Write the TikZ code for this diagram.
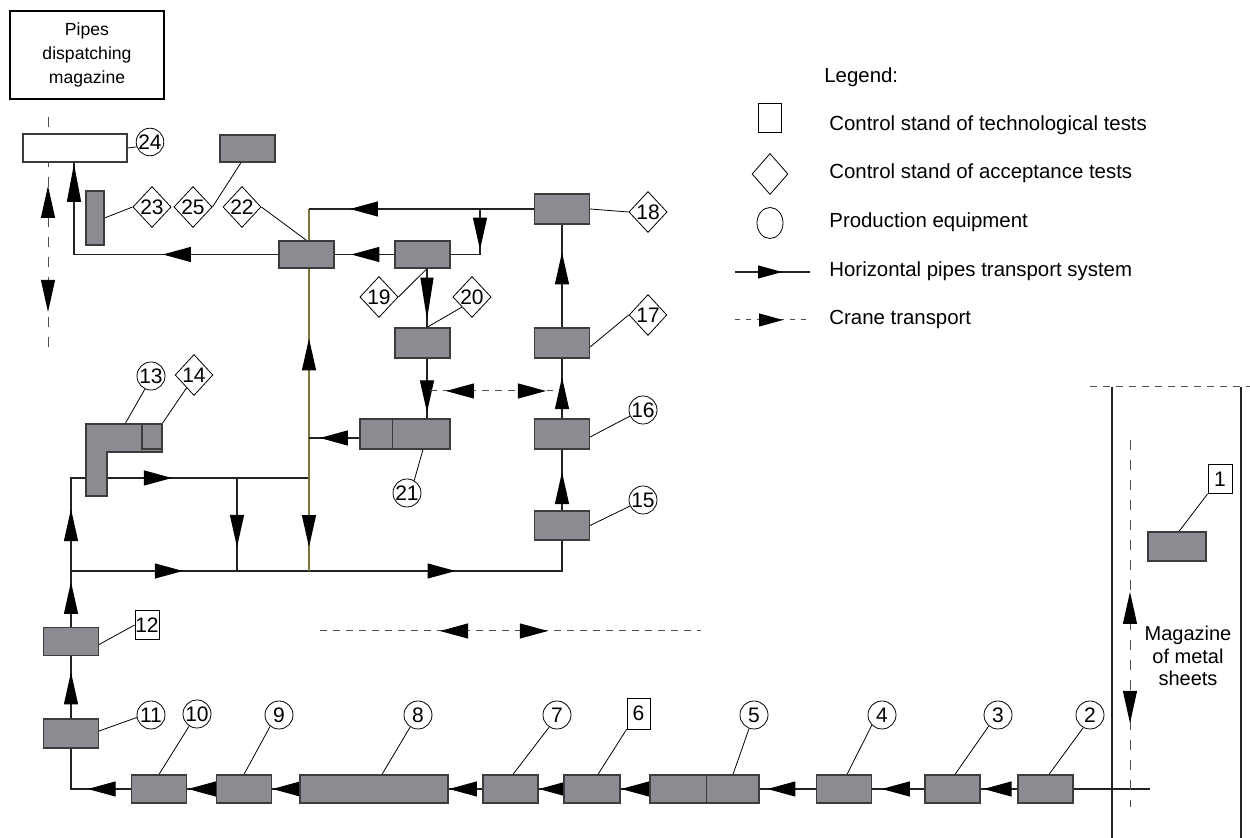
\documentclass[tikz,border=0pt]{standalone}
\usepackage{fontspec}
\setmainfont{Liberation Sans}
\usetikzlibrary{arrows.meta,decorations.markings,shapes.geometric,calc}
\pgfdeclarelayer{bg}
\pgfsetlayers{bg,main}
\definecolor{boxfill}{RGB}{139,140,145}
\definecolor{boxline}{RGB}{60,60,60}
\definecolor{olive2}{RGB}{125,118,55}
\definecolor{ln}{RGB}{35,35,35}
\tikzset{
  HTip/.tip={Triangle[length=14pt,width=7.5pt,color=black]},
  VTip/.tip={Triangle[length=16pt,width=7pt,color=black]},
  LTip/.tip={Triangle[length=19pt,width=7pt,color=black]},
  XTip/.tip={Triangle[length=21pt,width=6.5pt,color=black]},
  GTip/.tip={Triangle[length=12pt,width=6.5pt,color=black]},
  fw/.style 2 args={postaction={decorate,decoration={markings,mark=at position #1 with {\arrow{#2}}}}},
  bw/.style 2 args={postaction={decorate,decoration={markings,mark=at position #1 with {\arrowreversed{#2}}}}},
  fl/.style={draw=ln, line width=0.55pt},
  ol/.style={draw=olive2, line width=0.6pt},
  ld/.style={draw=black, line width=0.4pt},
  cr/.style={draw=ln!80, line width=0.5pt, dash pattern=on 3.5pt off 3pt},
  gb/.style={draw=boxline, fill=boxfill, line width=0.6pt, inner sep=0pt, minimum width=27.5pt, minimum height=14.5pt},
  sq/.style={rectangle, draw, fill=white, line width=0.4pt, inner sep=0pt, minimum width=12pt, minimum height=14.5pt},
  cn/.style={circle, draw, fill=white, line width=0.4pt, inner sep=0pt, minimum size=14pt},
  dm/.style={diamond, draw, fill=white, line width=0.4pt, inner sep=0pt, minimum width=18.5pt, minimum height=20.5pt},
  tbox/.style={draw=black, line width=0.9pt, minimum width=77pt, minimum height=44pt, align=center, inner sep=0pt, font=\fontsize{8.8}{12}\selectfont},
  lgt/.style={anchor=west, inner sep=0pt, font=\fontsize{10.2}{12}\selectfont}
}
\begin{document}
\begin{tikzpicture}[x=0.5pt,y=-0.5pt,font=\fontsize{10.5}{12}\selectfont]
\useasboundingbox (0,0) rectangle (1250,838);

% ---------- boxes ----------
\node[tbox] (pipes) at (87,55) {Pipes\\dispatching\\magazine};
\node[gb, fill=white, minimum width=52pt, minimum height=14pt] (b24) at (75,148) {};
\node[gb, minimum height=13.5pt] (b25) at (247.5,148.5) {};
\node[gb, minimum width=9pt, minimum height=27pt] (b23) at (95,218) {};
\node[gb, minimum height=13.5pt] (b22) at (306.5,254.5) {};
\node[gb, minimum height=13.5pt] (b19) at (422.5,254.5) {};
\node[gb, minimum height=15pt] (b18) at (562,209) {};
\node[gb, minimum height=15pt] (b17) at (562,343) {};
\node[gb, minimum height=15pt] (b16) at (562,434) {};
\node[gb] (b15) at (562,525.5) {};
\node[gb, minimum height=15pt] (b20) at (422.5,343) {};
\node[gb, minimum width=45pt, minimum height=15pt] (b21) at (405,434) {};
\node[gb, minimum width=29pt] (b1) at (1177,546.5) {};
\node[gb, minimum height=14pt] (b2) at (1045.5,789) {};
\node[gb, minimum height=14pt] (b3) at (952.5,789) {};
\node[gb, minimum height=14pt] (b4) at (844,789) {};
\node[gb, minimum height=14pt, minimum width=54.5pt] (b5) at (704.5,789) {};
\node[gb, minimum height=14pt, minimum width=28pt] (b6) at (592,789) {};
\node[gb, minimum height=14pt] (b7) at (510.5,789) {};
\node[gb, minimum height=14pt, minimum width=74pt] (b8) at (374,789) {};
\node[gb, minimum height=14pt] (b9) at (244,789) {};
\node[gb, minimum height=14pt] (b10) at (159,789) {};
\node[gb] (b11) at (71,733.5) {};
\node[gb, minimum height=14pt] (b12) at (71,641.5) {};
\draw[boxline, line width=0.6pt] ([xshift=28.5pt]b5.north west) -- ([xshift=28.5pt]b5.south west);
\draw[boxline, line width=0.6pt] ([xshift=16.5pt]b21.north west) -- ([xshift=16.5pt]b21.south west);

% ---------- labels ----------
\node[sq] (s1) at (1220,479) {1};
\node[sq, minimum width=11.5pt, minimum height=15.5pt] (s6) at (638.5,713.5) {6};
\node[sq] (s12) at (147,625) {12};
\node[cn] (c2) at (1090,715) {2};
\node[cn] (c3) at (998,715) {3};
\node[cn] (c4) at (882,715) {4};
\node[cn] (c5) at (754,715) {5};
\node[cn] (c7) at (557,715) {7};
\node[cn] (c8) at (418,715) {8};
\node[cn] (c9) at (279,715) {9};
\node[cn] (c10) at (197,714) {10};
\node[cn] (c11) at (151,715) {11};
\node[cn] (c13) at (151,376) {13};
\node[cn] (c15) at (643,500) {15};
\node[cn] (c16) at (643,410) {16};
\node[cn] (c21) at (407,493) {21};
\node[cn, minimum size=13.5pt] (c24) at (150,142) {24};
\node[dm] (d14) at (194,375) {14};
\node[dm] (d17) at (648,315) {17};
\node[dm] (d18) at (648,212) {18};
\node[dm] (d19) at (379,297) {19};
\node[dm] (d20) at (472,297) {20};
\node[dm] (d22) at (242,207) {22};
\node[dm] (d23) at (152,207) {23};
\node[dm] (d25) at (193,207) {25};

\node[align=center, inner sep=0pt, font=\fontsize{10}{11.25}\selectfont] (mag) at (1188,656) {Magazine\\of metal\\sheets};

% ---------- legend ----------
\node[lgt] (lg) at (824,77) {Legend:};
\node[sq, minimum width=11.5pt, minimum height=14.5pt] (lsq) at (769.5,117.5) {};
\node[dm, minimum width=18pt] (ldm) at (770,174) {};
\node[ellipse, draw, line width=0.4pt, inner sep=0pt, minimum width=13pt, minimum height=15.5pt] (lcl) at (770,223) {};
\node[lgt] (lt1) at (829,125) {Control stand of technological tests};
\node[lgt] (lt2) at (829,173) {Control stand of acceptance tests};
\node[lgt] (lt3) at (829,222) {Production equipment};
\node[lgt] (lt4) at (829,271) {Horizontal pipes transport system};
\node[lgt] (lt5) at (829,320) {Crane transport};

% ---------- connectors (behind the boxes) ----------
\begin{pgfonlayer}{bg}
\coordinate (J1) at (71,571);
\coordinate (K1) at (71,478);
\coordinate (J2) at (309,478);
\coordinate (J3) at (309,571);
\coordinate (T1) at (237,478);
\coordinate (T2) at (237,571);
\coordinate (Q) at (309,209);
\coordinate (T3) at (480,209);
\coordinate (O2) at (309,438);
\coordinate (E1) at (1150,789);

% bottom row
\draw[fl,fw={0.92}{HTip}] (b2.west) -- (b3.east);
\draw[fl,fw={0.815}{HTip}] (b3.west) -- (b4.east);
\draw[fl,fw={0.862}{HTip}] (b4.west) -- (b5.east);
\draw[fl,fw={0.98}{HTip}] (b5.west) -- (b6.east);
\draw[fl,fw={0.99}{HTip}] (b6.west) -- (b7.east);
\draw[fl,fw={0.99}{HTip}] (b7.west) -- (b8.east);
\draw[fl,fw={0.99}{HTip}] (b8.west) -- (b9.east);
\draw[fl,fw={0.97}{HTip}] (b9.west) -- (b10.east);
\draw[fl,fw={0.431}{HTip}] (b10.west) -| (b11.south);
\draw[fl,fw={0.74}{VTip}] (b11.north) -- (b12.south);
\draw[fl,fw={0.805}{VTip}] (b12.north) -- (J1);
\draw[fl,fw={0.187}{VTip},fw={0.586}{HTip}] (J1) -- (K1) -- (J2);
\draw[fl,fw={0.2146}{HTip},fw={0.7375}{HTip}] (J1) -| (b15.south);
\draw[fl,fw={0.742}{VTip}] (T1) -- (T2);
\draw[fl] (b2.east) -- (E1);

% olive trunk
\draw[ol] (Q) -- ([xshift=1.25pt]b22.north);
\draw[ol,bw={0.231}{VTip},fw={0.921}{VTip}] ([xshift=1.25pt]b22.south) -- (J3);

% upper loop
\draw[fl,fw={0.818}{HTip}] (b18.west) -- (Q);
\draw[fl,fw={0.543}{VTip}] (T3) |- (b19.east);
\draw[fl,fw={0.721}{HTip}] (b19.west) -- (b22.east);
\draw[fl,fw={0.39}{HTip},fw={0.996}{LTip}] (b22.west) -| ([xshift=-0.5pt]b24.south);
\draw[fl,fw={0.784}{HTip}] ([yshift=-2pt]b21.west) -- (O2);
\draw[fl,fw={0.867}{XTip}] ([xshift=2.25pt]b19.south) -- ([xshift=2.25pt]b20.north);
\draw[fl,fw={0.9}{VTip}] ([xshift=2.25pt]b20.south) -- ([xshift=11pt]b21.north);
\draw[fl,fw={0.63}{VTip}] (b15.north) -- (b16.south);
\draw[fl,fw={0.69}{VTip}] (b16.north) -- (b17.south);
\draw[fl,fw={0.73}{VTip}] (b17.north) -- (b18.south);

% crane transport
\coordinate (D1) at (430,391);
\coordinate (D2) at (553,391);
\coordinate (D3) at (320,631);
\coordinate (D4) at (701,631);
\coordinate (D5) at (48,117);
\coordinate (D6) at (48,353);
\coordinate (D7) at (1130,440);
\coordinate (D8) at (1130,807);
\coordinate (D9) at (1090,387);
\coordinate (D10) at (1250,387);
\draw[cr,bw={0.13}{HTip},fw={0.943}{HTip}] (D1) -- (D2);
\draw[cr,bw={0.315}{HTip},fw={0.598}{HTip}] (D3) -- (D4);
\draw[cr,dash pattern=on 5pt off 5pt,bw={0.292}{VTip},fw={0.826}{VTip}] (D5) -- (D6);
\draw[cr,dash pattern=on 5pt off 5pt,bw={0.414}{VTip},fw={0.771}{VTip}] (D7) -- (D8);
\draw[cr] (D9) -- (D10);

% magazine walls
\coordinate (W1) at (1112,387);
\coordinate (W2) at (1112,838);
\coordinate (W3) at (1241,387);
\coordinate (W4) at (1241,838);
\draw[fl] (W1) -- (W2);
\draw[fl] (W3) -- (W4);

% leaders
\coordinate (l13) at (125,424);
\coordinate (l14) at (162,424);
\draw[ld] (s1.south west) -- ([xshift=1pt]b1.north);
\draw[ld] (c2.242) -- ([xshift=1.75pt]b2.north);
\draw[ld] (c3.230) -- ([xshift=1.25pt]b3.north);
\draw[ld] (c4.225) -- ([xshift=1.5pt]b4.north);
\draw[ld] (c5.250) -- ([xshift=14.25pt]b5.north);
\draw[ld] (s6.south west) -- ([xshift=3pt]b6.north);
\draw[ld] (c7.237) -- ([xshift=1.25pt]b7.north);
\draw[ld] (c8.237) -- ([xshift=4pt]b8.north);
\draw[ld] (c9.232) -- (b9.north);
\draw[ld] (c10.237) -- (b10.north);
\draw[ld] (c11.190) -- ([yshift=1.25pt]b11.east);
\draw[ld] (s12.west) -- ([yshift=-1.5pt]b12.east);
\draw[ld] (c13.245) -- (l13);
\draw[ld] (d14.240) -- (l14);
\draw[ld] (c15.205) -- (b15.east);
\draw[ld] (c16.205) -- ([yshift=-1.5pt]b16.east);
\draw[ld] (d17.west) -- ([yshift=-2pt]b17.east);
\draw[ld] (d18.west) -- (b18.east);
\draw[ld] (d19.east) -- ([xshift=2.25pt]b19.south);
\draw[ld] (d20.225) -- ([xshift=2.25pt]b20.north);
\draw[ld] (c21.60) -- ([xshift=9pt]b21.south);
\draw[ld] (d22.east) -- (b22.north);
\draw[ld] (d23.west) -- (b23.east);
\draw[ld] (d25.east) -- ([xshift=-3.25pt]b25.south);
\draw[ld] (b24.east) -- (c24.200);

% legend lines
\coordinate (G1) at (735,272);
\coordinate (G2) at (810,272);
\coordinate (G3) at (735,320);
\coordinate (G4) at (810,320);
\draw[fl,fw={0.627}{GTip}] (G1) -- (G2);
\draw[cr,dash pattern=on 2.5pt off 3pt,fw={0.64}{GTip}] (G3) -- (G4);
\end{pgfonlayer}

% L-shaped machine 13 with stand 14 (drawn over the line)
\filldraw[fill=boxfill, draw=boxline, line width=0.6pt] (86,424) -- (162,424) -- (162,452) -- (107,452) -- (107,496) -- (86,496) -- cycle;
\draw[boxline, line width=0.6pt] (142,424) rectangle (162,449);
\end{tikzpicture}
\end{document}
